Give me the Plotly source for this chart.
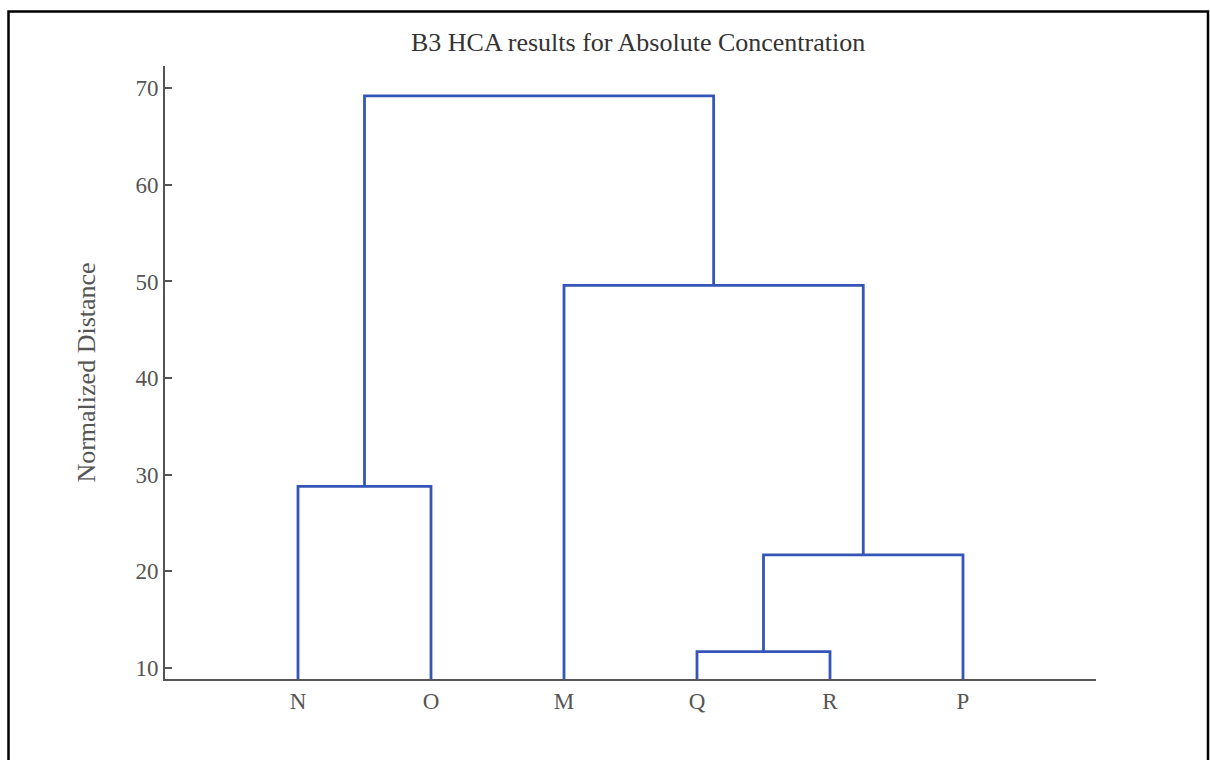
import plotly.graph_objects as go

# Data
leaf_labels = ["N", "O", "M", "Q", "R", "P"]
# merges: (left cluster, right cluster, height)
merge_left = ["Q", "QR", "N", "M", "NO"]
merge_right = ["R", "P", "O", "QRP", "MQRP"]
merge_names = ["QR", "QRP", "NO", "MQRP", "ALL"]
merge_heights = [11.7, 21.7, 28.8, 49.6, 69.2]
y_ticks = [10, 20, 30, 40, 50, 60, 70]

# Build dendrogram geometry from the data
pos = {lab: i + 1 for i, lab in enumerate(leaf_labels)}
height = {lab: 0.0 for lab in leaf_labels}
xs, ys = [], []
for a, b, name, h in zip(merge_left, merge_right, merge_names, merge_heights):
    xa, xb = pos[a], pos[b]
    xs += [xa, xa, xb, xb, None]
    ys += [height[a], h, h, height[b], None]
    pos[name] = (xa + xb) / 2
    height[name] = h

fig = go.Figure()
fig.add_trace(go.Scatter(
    x=xs, y=ys, mode="lines",
    line=dict(color="#3556b8", width=2.8),
    hoverinfo="skip", showlegend=False,
))

font_family = "Liberation Serif, Times New Roman, serif"
W, H = 1210, 760
L, R, T, B = 165, 114, 66, 81
pw, ph = W - L - R, H - T - B

fig.update_layout(
    width=W, height=H,
    margin=dict(l=L, r=R, t=T, b=B),
    paper_bgcolor="white", plot_bgcolor="white",
    font=dict(family=font_family, color="#555555", size=24),
    showlegend=False,
    xaxis=dict(
        range=[0, 7],
        tickmode="array",
        tickvals=list(range(1, len(leaf_labels) + 1)),
        ticktext=leaf_labels,
        showgrid=False, zeroline=False,
        showline=True, linecolor="#555555", linewidth=2,
        ticks="", tickfont=dict(size=23, color="#555555"),
    ),
    yaxis=dict(
        range=[8.86, 72.3],
        tickmode="array",
        tickvals=y_ticks,
        showgrid=False, zeroline=False,
        showline=True, linecolor="#555555", linewidth=2,
        ticks="inside", ticklen=7, tickcolor="#555555", tickwidth=1.5,
        tickfont=dict(size=23, color="#555555"),
        title=dict(text="Normalized Distance", font=dict(size=26, color="#555555"), standoff=32),
    ),
    annotations=[dict(
        text="B3 HCA results for Absolute Concentration",
        xref="paper", yref="paper", x=(638 - L) / pw, y=1 + (T - 42) / ph,
        xanchor="center", yanchor="middle", showarrow=False,
        font=dict(size=26, color="#333333", family=font_family),
    )],
    shapes=[dict(
        type="rect", xref="paper", yref="paper",
        x0=(8.5 - L) / pw, x1=(1208 - L) / pw,
        y0=-(B + 40) / ph, y1=1 + (T - 11.5) / ph,
        line=dict(color="black", width=2.5), fillcolor="rgba(0,0,0,0)",
        layer="above",
    )],
)

fig.write_html(
    "out.html",
    config={"displayModeBar": False},
    post_script="document.body.style.margin='0';document.body.style.overflow='hidden';",
)
